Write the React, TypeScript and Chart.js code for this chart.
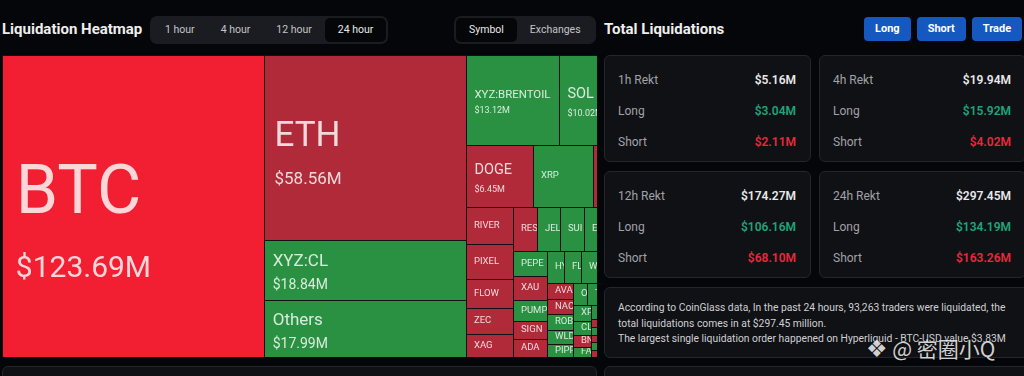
import React, { useEffect, useRef } from "react";
import { Chart, registerables } from "chart.js";

Chart.register(...registerables);

// ---------- Treemap data (24h liquidations, $M) ----------
const symbols = [
  "BTC", "ETH", "XYZ:CL", "Others", "XYZ:BRENTOIL", "SOL", "DOGE", "XRP", "LINK",
  "RIVER", "PIXEL", "FLOW", "ZEC", "XAG",
  "RESOLV", "JELLYJELLY", "SUI", "ENA", "LTC",
  "PEPE", "XAU", "PUMP", "SIGN", "ADA",
  "HYPE", "FLOKI", "WIF", "TRUMP", "AAVE",
  "AVAX", "NAORIS", "ROBO", "WLD", "PIPPIN",
  "ONDO", "TAO", "BCH", "DOT",
  "XPL", "CLO", "BNB", "FARTCOIN",
  "ARB", "OP", "APT", "NEAR", "TIA", "INJ", "SEI", "TON", "ETC", "FIL", "ATOM", "UNI", "CRV", "LDO",
  "JUP", "PENGU", "KAITO", "VIRTUAL", "BERA", "MOODENG", "POPCAT", "GOAT", "IP", "S", "TRX", "HBAR", "ALGO", "XLM",
];
const liquidations = [
  123.69, 58.56, 18.84, 17.99, 13.12, 10.02, 6.45, 5.75, 3.6,
  2.71, 2.57, 2.13, 1.91, 1.69,
  1.62, 1.61, 1.6, 1.58, 1.56,
  1.34, 1.29, 1.08, 0.98, 0.93,
  0.86, 0.85, 0.84, 0.83, 0.82,
  0.64, 0.63, 0.62, 0.58, 0.52,
  0.5, 0.49, 0.48, 0.47,
  0.46, 0.39, 0.34, 0.29,
  0.18, 0.18, 0.17, 0.17, 0.16, 0.16, 0.15, 0.15, 0.14, 0.14, 0.13, 0.13, 0.12, 0.12,
  0.11, 0.11, 0.1, 0.1, 0.09, 0.09, 0.08, 0.08, 0.07, 0.07, 0.06, 0.06, 0.05, 0.05,
];
const tones = [
  "hot", "short", "long", "long", "long", "long", "short", "long", "short",
  "short", "short", "short", "short", "short",
  "short", "long", "long", "long", "long",
  "long", "short", "long", "short", "short",
  "long", "long", "long", "long", "long",
  "short", "short", "long", "long", "long",
  "long", "long", "long", "long",
  "long", "long", "short", "long",
  "long", "short", "long", "short", "long", "short", "long", "short", "long", "short", "long", "short", "long", "short",
  "long", "short", "long", "short", "long", "short", "long", "short", "long", "short", "long", "short", "long", "short",
];

// ---------- Panel data ----------
const timeTabs = ["1 hour", "4 hour", "12 hour", "24 hour"];
const activeTimeTab = "24 hour";
const viewTabs = ["Symbol", "Exchanges"];
const activeViewTab = "Symbol";
const actionButtons = ["Long", "Short", "Trade"];
const rektPeriods = ["1h Rekt", "4h Rekt", "12h Rekt", "24h Rekt"];
const rektTotals = ["$5.16M", "$19.94M", "$174.27M", "$297.45M"];
const rektLongs = ["$3.04M", "$15.92M", "$106.16M", "$134.19M"];
const rektShorts = ["$2.11M", "$4.02M", "$68.10M", "$163.26M"];
const summaryLines = [
  "According to CoinGlass data, In the past 24 hours, 93,263 traders were liquidated, the",
  "total liquidations comes in at $297.45 million.",
  "The largest single liquidation order happened on Hyperliquid - BTC-USD value $3.83M",
];

const TONE_COLORS: Record<string, string> = {
  hot: "#f11f31",
  short: "#b02a39",
  long: "#2a9142",
};
const FONT = "Roboto, 'Noto Sans', sans-serif";

type Cell = { i: number; area: number; x: number; y: number; w: number; h: number };

// ECharts-style squarified treemap layout
function squarify(vals: number[], W: number, H: number): Cell[] {
  const total = vals.reduce((a, b) => a + b, 0);
  const nodes: Cell[] = vals
    .map((v, i) => ({ i, area: (v / total) * W * H, x: 0, y: 0, w: 0, h: 0 }))
    .sort((a, b) => b.area - a.area);
  const rect = { x: 0, y: 0, w: W, h: H };
  const ratio = 0.5 * (1 + Math.sqrt(5));
  const worst = (row: Cell[], area: number, L: number) => {
    let mx = 0, mn = Infinity;
    for (const n of row) { if (n.area > mx) mx = n.area; if (n.area < mn) mn = n.area; }
    const sq = area * area;
    const f = L * L * ratio;
    return sq ? Math.max((f * mx) / sq, sq / (f * mn)) : Infinity;
  };
  const position = (row: Cell[], area: number, L: number, flush: boolean) => {
    const horiz = L === rect.w;
    let other = L ? area / L : 0;
    const avail = horiz ? rect.h : rect.w;
    if (flush || other > avail) other = avail;
    let last = horiz ? rect.x : rect.y;
    const end = horiz ? rect.x + rect.w : rect.y + rect.h;
    row.forEach((n, k) => {
      const step = other ? n.area / other : 0;
      const remain = end - last;
      const len = k === row.length - 1 || remain < step ? remain : step;
      if (horiz) { n.x = last; n.y = rect.y; n.w = len; n.h = other; }
      else { n.x = rect.x; n.y = last; n.w = other; n.h = len; }
      last += len;
    });
    if (horiz) { rect.y += other; rect.h -= other; } else { rect.x += other; rect.w -= other; }
  };
  let row: Cell[] = [];
  let rowArea = 0;
  let fixed = Math.min(rect.w, rect.h);
  let best = Infinity;
  let k = 0;
  while (k < nodes.length) {
    const n = nodes[k];
    row.push(n);
    rowArea += n.area;
    const score = worst(row, rowArea, fixed);
    if (score <= best) { k++; best = score; }
    else {
      row.pop();
      rowArea -= n.area;
      position(row, rowArea, fixed, false);
      fixed = Math.min(rect.w, rect.h);
      row = []; rowArea = 0; best = Infinity;
    }
  }
  if (row.length) position(row, rowArea, fixed, true);
  return nodes;
}

const nameSizeFor = (v: number) => (v >= 100 ? 68 : v >= 40 ? 35 : v >= 15 ? 17 : v >= 6 ? 14.5 : 9.5);
const valueSizeFor = (v: number) => (v >= 100 ? 30 : v >= 40 ? 17 : v >= 15 ? 14 : 9);
const fmtM = (v: number) => "$" + v.toFixed(2) + "M";

const treemapPlugin = {
  id: "liqTreemap",
  beforeDatasetsDraw(chart: any) {
    const { ctx, chartArea } = chart;
    const xs = chart.scales.x;
    const ys = chart.scales.y;
    const W = chartArea.right - chartArea.left;
    const H = chartArea.bottom - chartArea.top;
    const cells = squarify(liquidations, W, H);
    ctx.save();
    ctx.fillStyle = "#121214";
    ctx.fillRect(chartArea.left, chartArea.top, W, H);
    for (const c of cells) {
      const x0 = Math.round(xs.getPixelForValue(c.x / W));
      const x1 = Math.round(xs.getPixelForValue((c.x + c.w) / W));
      const y0 = Math.round(ys.getPixelForValue(c.y / H));
      const y1 = Math.round(ys.getPixelForValue((c.y + c.h) / H));
      const cw = x1 - x0, ch = y1 - y0;
      ctx.fillStyle = TONE_COLORS[tones[c.i]];
      ctx.fillRect(x0 + 1, y0 + 1, cw - 1, ch - 1);
      const v = liquidations[c.i];
      if (cw < 12 || ch < 10) continue;
      ctx.save();
      ctx.beginPath();
      ctx.rect(x0 + 1, y0 + 1, cw - 1, ch - 1);
      ctx.clip();
      ctx.fillStyle = "rgba(255,255,255,0.82)";
      ctx.textBaseline = "middle";
      ctx.textAlign = "left";
      let ns = nameSizeFor(v);
      const pad = 7 + 0.1 * ns;
      const cy = (y0 + y1) / 2;
      if (v >= 6) {
        ctx.font = `${ns}px ${FONT}`;
        const tw = ctx.measureText(symbols[c.i]).width;
        const avail = cw - 2 * pad;
        if (tw > avail) ns = Math.max(9, (ns * avail) / tw);
        const vs = valueSizeFor(v);
        const huge = ns > 50;
        const gap = (huge ? 0.36 : 0.47) * ns;
        const blockH = ns + gap + vs;
        const top = cy - blockH / 2 + (huge ? 0.25 : 0.18) * ns;
        ctx.font = `${ns}px ${FONT}`;
        ctx.fillText(symbols[c.i], x0 + pad, top + ns / 2);
        ctx.font = `${vs}px ${FONT}`;
        ctx.fillText(fmtM(v), x0 + pad, top + ns + gap + vs / 2);
      } else {
        ctx.font = `${ns}px ${FONT}`;
        ctx.fillText(symbols[c.i], x0 + pad, cy);
      }
      ctx.restore();
    }
    ctx.restore();
  },
};

function Treemap() {
  const ref = useRef<HTMLCanvasElement | null>(null);
  useEffect(() => {
    if (!ref.current) return;
    const chart = new Chart(ref.current, {
      type: "scatter",
      data: { datasets: [{ label: "Liquidations", data: [] }] },
      options: {
        animation: false,
        responsive: false,
        devicePixelRatio: 1,
        events: [],
        layout: { padding: 0 },
        scales: {
          x: { type: "linear", min: 0, max: 1, display: false },
          y: { type: "linear", min: 0, max: 1, reverse: true, display: false },
        },
        plugins: { legend: { display: false }, tooltip: { enabled: false } },
      },
      plugins: [treemapPlugin as any],
    });
    return () => chart.destroy();
  }, []);
  return <canvas ref={ref} width={628} height={302} style={{ display: "block" }} />;
}

const cardStyle: React.CSSProperties = {
  position: "absolute",
  background: "#101115",
  border: "1px solid #24262b",
  borderRadius: 6,
  boxSizing: "border-box",
};

function Tabs({ items, active, left }: { items: string[]; active: string; left: number }) {
  return (
    <div
      style={{
        position: "absolute", left, top: 16, height: 28, padding: 2, boxSizing: "border-box",
        background: "#1b1c21", borderRadius: 7, display: "flex",
      }}
    >
      {items.map((t) => (
        <div
          key={t}
          style={{
            height: 24, lineHeight: "24px", padding: "0 13px", fontSize: 10.5, borderRadius: 5,
            color: t === active ? "#e8e8ea" : "#c3c4c8",
            background: t === active ? "#050608" : "transparent",
          }}
        >
          {t}
        </div>
      ))}
    </div>
  );
}

function RektCard({ idx, left, top }: { idx: number; left: number; top: number }) {
  const rows = [
    [rektPeriods[idx], rektTotals[idx], "#e8e8ea"],
    ["Long", rektLongs[idx], "#1ea47b"],
    ["Short", rektShorts[idx], "#e8293b"],
  ];
  return (
    <div style={{ ...cardStyle, left, top, width: 207, height: 107 }}>
      {rows.map(([label, val, color], r) => (
        <div
          key={r}
          style={{
            position: "absolute", left: 13, right: 14, top: 14 + r * 31, height: 20, lineHeight: "20px",
            display: "flex", justifyContent: "space-between", fontSize: 12,
          }}
        >
          <span style={{ color: "#a0a2a8" }}>{label}</span>
          <span style={{ color, fontWeight: 600 }}>{val}</span>
        </div>
      ))}
    </div>
  );
}

export default function App() {
  return (
    <div
      style={{
        position: "fixed", left: 0, top: 0, width: 1024, height: 376, overflow: "hidden",
        background: "#05060a", fontFamily: FONT, color: "#eeeeee",
      }}
    >
      <div style={{ position: "absolute", left: 2, top: 20, fontSize: 15, fontWeight: 700, lineHeight: "18px" }}>
        Liquidation Heatmap
      </div>
      <Tabs items={timeTabs} active={activeTimeTab} left={150} />
      <Tabs items={viewTabs} active={activeViewTab} left={454} />

      <div style={{ position: "absolute", left: 2, top: 55, width: 595, height: 302, overflow: "hidden" }}>
        <Treemap />
      </div>
      <div style={{ ...cardStyle, left: 2, top: 366, width: 595, height: 40 }} />

      <div style={{ position: "absolute", left: 604, top: 20, fontSize: 15, fontWeight: 700, lineHeight: "18px" }}>
        Total Liquidations
      </div>
      <div style={{ position: "absolute", left: 864, top: 17, display: "flex", gap: 6 }}>
        {actionButtons.map((b) => (
          <div
            key={b}
            style={{
              height: 24, lineHeight: "24px", padding: "0 11px", background: "#1558c0", borderRadius: 4,
              color: "#ffffff", fontSize: 11, fontWeight: 700,
            }}
          >
            {b}
          </div>
        ))}
      </div>

      <RektCard idx={0} left={604} top={55} />
      <RektCard idx={1} left={819} top={55} />
      <RektCard idx={2} left={604} top={171} />
      <RektCard idx={3} left={819} top={171} />

      <div style={{ ...cardStyle, left: 604, top: 287, width: 430, height: 71, padding: "12px 0 0 13px" }}>
        {summaryLines.map((l, i) => (
          <div key={i} style={{ fontSize: 10.3, lineHeight: "15.5px", color: "#cfd0d3", whiteSpace: "nowrap" }}>
            {l}
          </div>
        ))}
      </div>
      <div style={{ ...cardStyle, left: 604, top: 366, width: 430, height: 40 }} />

      <div
        style={{
          position: "absolute", left: 866, top: 334, fontSize: 21, lineHeight: "28px", whiteSpace: "nowrap",
          color: "rgba(255,255,255,0.82)", fontFamily: "'Noto Sans CJK SC', 'DejaVu Sans', sans-serif",
          textShadow: "0 0 2px rgba(0,0,0,0.6)",
        }}
      >
        <span style={{ fontFamily: "'DejaVu Sans'", fontSize: 24 }}>❖</span> @ 密圈小Q
      </div>
    </div>
  );
}
